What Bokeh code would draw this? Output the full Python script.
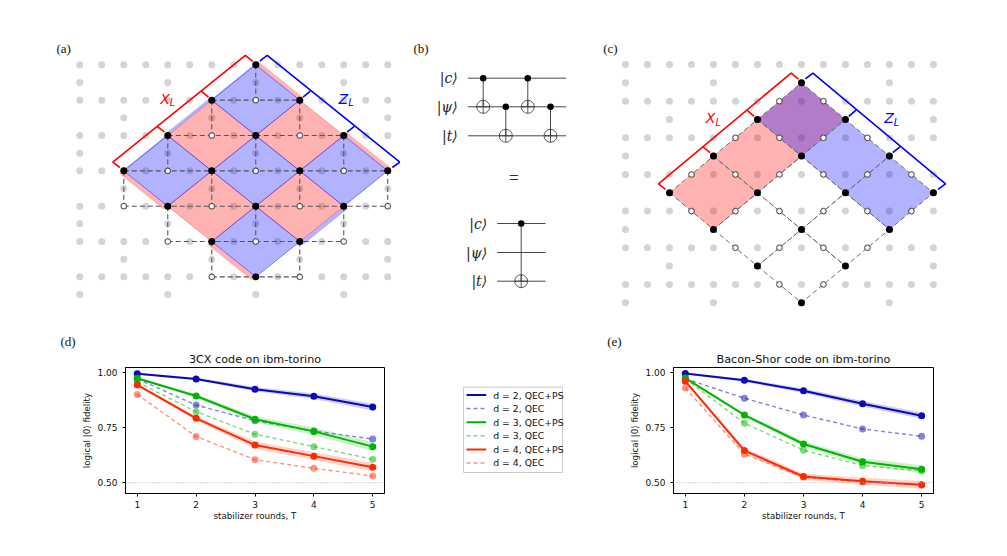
from bokeh.plotting import figure
from bokeh.layouts import column, row
from bokeh.models import Range1d, FixedTicker, Span, Label, NumeralTickFormatter
from bokeh.core.properties import value
from bokeh.embed import file_html
from bokeh.resources import INLINE

# ---------- chart data ----------
rounds = [1, 2, 3, 4, 5]
series_labels = ["d = 2, QEC+PS", "d = 2, QEC", "d = 3, QEC+PS", "d = 3, QEC", "d = 4, QEC+PS", "d = 4, QEC"]
colors = ["#0a0ab8", "#0a0ab8", "#00b400", "#00b400", "#ff2a00", "#ff2a00"]

cx_d2_ps = [0.993, 0.969, 0.923, 0.891, 0.842]
cx_d2_qec = [0.970, 0.851, 0.780, 0.734, 0.697]
cx_d3_ps = [0.972, 0.892, 0.787, 0.732, 0.663]
cx_d3_qec = [0.955, 0.821, 0.719, 0.663, 0.606]
cx_d4_ps = [0.942, 0.791, 0.670, 0.620, 0.570]
cx_d4_qec = [0.899, 0.709, 0.604, 0.565, 0.530]
cx_err = [[0.004, 0.006, 0.010, 0.012, 0.015],
          [0.005, 0.008, 0.014, 0.018, 0.020],
          [0.006, 0.010, 0.016, 0.018, 0.020]]

bs_d2_ps = [0.994, 0.963, 0.916, 0.857, 0.803]
bs_d2_qec = [0.970, 0.882, 0.806, 0.743, 0.710]
bs_d3_ps = [0.973, 0.806, 0.675, 0.595, 0.561]
bs_d3_qec = [0.970, 0.769, 0.647, 0.577, 0.553]
bs_d4_ps = [0.959, 0.645, 0.528, 0.506, 0.491]
bs_d4_qec = [0.928, 0.629, 0.524, 0.503, 0.490]
bs_err = [[0.004, 0.006, 0.010, 0.012, 0.014],
          [0.005, 0.008, 0.012, 0.015, 0.018],
          [0.006, 0.012, 0.014, 0.016, 0.018]]

y_ticks = [0.5, 0.75, 1.0]
chance_level = 0.5

# ---------- lattice data (column, row) ----------
full_rows = [0, 2, 4, 6, 8, 10, 12]
sparse_a_rows = [1, 5, 9, 13]
sparse_a_cols = [0, 4, 8, 12]
sparse_b_rows = [3, 7, 11]
sparse_b_cols = [2, 6, 10, 14]

a_black = [(8,0),(6,2),(10,2),(4,4),(8,4),(12,4),(2,6),(6,6),(10,6),(14,6),(4,8),(8,8),(12,8),(6,10),(10,10),(8,12)]
a_white = [(8,2),(6,4),(10,4),(4,6),(8,6),(12,6),(2,8),(6,8),(10,8),(14,8),(4,10),(8,10),(12,10),(6,12),(10,12)]
a_hlines = [(2,6,10),(4,4,12),(6,2,14),(8,2,14),(10,4,12),(12,6,10)]
a_vlines = [(8,0,2),(8,4,6),(8,8,10),(6,2,4),(6,6,8),(6,10,12),(10,2,4),(10,6,8),(10,10,12),(4,4,6),(4,8,10),(12,4,6),(12,8,10),(2,6,8),(14,6,8)]
a_blue = [(8,2),(4,6),(8,6),(12,6),(8,10)]
a_red = [(6,4),(10,4),(6,8),(10,8)]
a_red_strips = [((8,0),(10,2),(0.17,-0.14)),((12,4),(14,6),(0.17,-0.14)),((2,6),(4,8),(-0.2,0.17)),((6,10),(8,12),(-0.2,0.17))]
a_blue_strips = [((4,4),(6,2),(-0.12,-0.1)),((2,6),(4,4),(-0.04,-0.04)),((10,10),(12,8),(0.18,0.15)),((6,2),(8,0),(-0.04,-0.04))]

c_black = [(8,1),(6,3),(10,3),(4,5),(8,5),(12,5),(2,7),(6,7),(10,7),(14,7),(4,9),(8,9),(12,9),(6,11),(10,11),(8,13)]
c_white = [(7,2),(9,2),(5,4),(7,4),(9,4),(11,4),(3,6),(5,6),(7,6),(9,6),(11,6),(13,6),(3,8),(5,8),(7,8),(9,8),(11,8),(13,8),(5,10),(7,10),(9,10),(11,10),(7,12),(9,12)]
c_red = [(8,3),(6,5),(4,7)]
c_blue = [(8,3),(10,5),(12,7)]
c_tiles_all = [(8,3),(6,5),(10,5),(4,7),(8,7),(12,7),(6,9),(10,9),(8,11)]

red_bracket = [(1.82,5.81),(1.5,5.51),(7.53,-0.53),(7.86,-0.2)]
red_ticks = [((3.52,3.49),(3.85,3.81)),((5.52,1.49),(5.85,1.83))]
blue_bracket = [(8.18,-0.21),(8.52,-0.53),(14.55,5.51),(14.21,5.81)]
blue_ticks = [((10.48,1.49),(10.15,1.83)),((12.48,3.49),(12.15,3.81))]
x_label_pos = (4.09, 1.92)
z_label_pos = (12.2, 1.92)

# ---------- circuit data, in page pixels ----------
top_wire_y = [77.7, 106.3, 135.3]
top_wire_x = [467.3, 565.7]
top_gates = [(482.7, 0, 1), (505.3, 1, 2), (527.3, 0, 1), (550.0, 1, 2)]
low_wire_y = [223.0, 252.0, 280.7]
low_wire_x = [496.7, 545.0]
low_gate = (520.7, 0, 2)
ket_labels = ["|c⟩", "|ψ⟩", "|t⟩"]

# ---------- legend layout, in page pixels ----------
legend_box = (463, 562, 385, 471.7)
legend_rows = [393, 406.7, 420.7, 434.3, 448.3, 462]
legend_line_x = [466, 485.7]
legend_text_x = 492.7

SERIF = "Liberation Serif"
SANS = "DejaVu Sans"
RED = "#ff0000"
BLUE = "#0000ff"
value_sans = value(SANS)
value_serif = value(SERIF)
TOP_H = 349
BOTTOM_H = 201
BORDER_T = 16
BORDER_B = 57


def blank(width, height, xr, yr, **kw):
    p = figure(width=width, height=height, x_range=Range1d(*xr), y_range=Range1d(*yr),
               output_backend="svg", toolbar_location=None, min_border=0, **kw)
    p.axis.visible = False
    p.grid.visible = False
    p.outline_line_color = None
    return p


def panel_label(p, text, x, y_from_bottom):
    p.add_layout(Label(x=x, y=y_from_bottom, x_units="screen", y_units="screen", text=text,
                       text_font=SERIF, text_font_size="13px", text_color="#111111",
                       text_baseline="middle", text_align="left"))


def lattice_dots(p, size):
    xs, ys = [], []
    for r in full_rows:
        xs += list(range(15)); ys += [r] * 15
    for r in sparse_a_rows:
        xs += sparse_a_cols; ys += [r] * 4
    for r in sparse_b_rows:
        xs += sparse_b_cols; ys += [r] * 4
    p.scatter(xs, ys, size=size, color="#d4d4d4", line_color=None)


def diamonds(centers):
    return [[c - 2, c, c + 2, c] for c, _ in centers], [[r, r - 2, r, r + 2] for _, r in centers]


def brackets(p, shift):
    for pts, ticks, col in ((red_bracket, red_ticks, RED), (blue_bracket, blue_ticks, BLUE)):
        p.line([a for a, _ in pts], [b + shift for _, b in pts], line_color=col, line_width=1.6)
        for s, e in ticks:
            p.line([s[0], e[0]], [s[1] + shift, e[1] + shift], line_color=col, line_width=1.6)
    for (lx, ly), main, col in ((x_label_pos, "X", RED), (z_label_pos, "Z", BLUE)):
        p.text([lx], [ly + shift], text=[main], text_color=col, text_font_size="14px", text_font_style="italic",
               text_font=value_sans, text_align="right", text_baseline="middle")
        p.text([lx], [ly + shift + 0.22], text=["L"], text_color=col, text_font_size="10px", text_font_style="italic",
               text_font=value_sans, text_align="left", text_baseline="middle")


def nodes(p, white, black):
    p.scatter([c for c, _ in white], [r for _, r in white], size=5.5, fill_color="white", line_color="#222222", line_width=0.8)
    p.scatter([c for c, _ in black], [r for _, r in black], size=7, color="black", line_color=None)


# ---------- panel (a) ----------
pa = blank(400, TOP_H, (-3.605, 14.58), (16.11, -3.64))
lattice_dots(pa, 7)
for strips, col in ((a_red_strips, RED), (a_blue_strips, BLUE)):
    xs, ys = [], []
    for s, e, o in strips:
        xs.append([s[0], e[0], e[0] + o[0], s[0] + o[0]])
        ys.append([s[1], e[1], e[1] + o[1], s[1] + o[1]])
    pa.patches(xs, ys, fill_color=col, fill_alpha=0.3, line_color=None)
xs, ys = diamonds(a_red)
pa.patches(xs, ys, fill_color=RED, fill_alpha=0.3, line_color=RED, line_alpha=0.3, line_width=1)
xs, ys = diamonds(a_blue)
pa.patches(xs, ys, fill_color=BLUE, fill_alpha=0.3, line_color=BLUE, line_alpha=0.45, line_width=1)
for r, c0, c1 in a_hlines:
    pa.line([c0, c1], [r, r], line_color="#555555", line_width=1.1, line_dash="5 3")
for c, r0, r1 in a_vlines:
    pa.line([c, c], [r0, r1], line_color="#555555", line_width=1.1, line_dash="5 3")
nodes(pa, a_white, a_black)
brackets(pa, 0)
panel_label(pa, "(a)", 56, 301)
panel_label(pa, "(d)", 60, 8)

# ---------- panel (b) ----------
pb = blank(198, TOP_H, (400, 598), (TOP_H, 0))
for y in top_wire_y:
    pb.line(top_wire_x, [y, y], line_color="#333333", line_width=0.9)
for x, c, t in top_gates:
    pb.line([x, x], [top_wire_y[c], top_wire_y[t]], line_color="#333333", line_width=0.9)
    pb.scatter([x], [top_wire_y[c]], size=6.5, color="black", line_color=None)
    pb.scatter([x], [top_wire_y[t]], size=13, marker="circle_cross", fill_color=None, line_color="#333333", line_width=0.8)
for y in low_wire_y:
    pb.line(low_wire_x, [y, y], line_color="#333333", line_width=0.9)
x, c, t = low_gate
pb.line([x, x], [low_wire_y[c], low_wire_y[t]], line_color="#333333", line_width=0.9)
pb.scatter([x], [low_wire_y[c]], size=6.5, color="black", line_color=None)
pb.scatter([x], [low_wire_y[t]], size=13, marker="circle_cross", fill_color=None, line_color="#333333", line_width=0.8)
pb.text([top_wire_x[0] - 10] * 3, top_wire_y, text=ket_labels, text_font=value("DejaVu Serif"), text_font_size="14px",
        text_font_style="italic", text_align="right", text_baseline="middle", text_color="#222222")
pb.text([low_wire_x[0] - 10] * 3, low_wire_y, text=ket_labels, text_font=value("DejaVu Serif"), text_font_size="14px",
        text_font_style="italic", text_align="right", text_baseline="middle", text_color="#222222")
pb.text([513.3], [177.7], text=["="], text_font=value_serif, text_font_size="18px", text_align="center",
        text_baseline="middle", text_color="#333333")
panel_label(pb, "(b)", 13, 301)

# ---------- panel (c) ----------
pc = blank(402, TOP_H, (-1.227, 17.05), (15.55, -3.49))
lattice_dots(pc, 7)
xs, ys = diamonds(c_red)
pc.patches(xs, ys, fill_color=RED, fill_alpha=0.3, line_color=None)
xs, ys = diamonds(c_blue)
pc.patches(xs, ys, fill_color=BLUE, fill_alpha=0.3, line_color=None)
xs, ys = diamonds(c_tiles_all)
pc.patches(xs, ys, fill_color=None, line_color="#707070", line_width=1, line_dash="5 3")
nodes(pc, c_white, c_black)
brackets(pc, 1)
panel_label(pc, "(c)", 4.7, 301)
panel_label(pc, "(e)", 8.7, 8)


# ---------- line charts ----------
def chart(title, width, left, right, data, errs):
    p = figure(width=width, height=BOTTOM_H, x_range=Range1d(0.8, 5.2), y_range=Range1d(0.451, 1.021),
               output_backend="svg", toolbar_location=None, title=title,
               min_border_left=left, min_border_right=right, min_border_top=BORDER_T, min_border_bottom=BORDER_B,
               x_axis_label="stabilizer rounds, T", y_axis_label="logical |0⟩ fidelity")
    p.grid.visible = False
    p.outline_line_color = "black"
    p.outline_line_width = 1
    p.title.text_font = SANS
    p.title.text_font_size = "11.2px"
    p.title.text_font_style = "normal"
    p.title.align = "center"
    p.title.text_color = "#111111"
    p.title.standoff = 3
    for ax in (p.xaxis[0], p.yaxis[0]):
        ax.minor_tick_line_color = None
        ax.major_tick_in = 0
        ax.major_tick_out = 3
        ax.major_label_text_font = SANS
        ax.major_label_text_font_size = "9px"
        ax.major_label_text_color = "#111111"
        ax.axis_label_text_font = SANS
        ax.axis_label_text_font_size = "8.7px"
        ax.axis_label_text_font_style = "normal"
        ax.axis_label_text_color = "#111111"
        ax.axis_label_standoff = 2
    p.xaxis[0].major_label_standoff = 4
    p.xaxis[0].axis_label_standoff = 0
    p.xaxis[0].ticker = FixedTicker(ticks=rounds)
    p.yaxis[0].ticker = FixedTicker(ticks=y_ticks)
    p.yaxis[0].formatter = NumeralTickFormatter(format="0.00")
    p.add_layout(Span(location=chance_level, dimension="width", line_color="#aaaaaa", line_dash="1 2", line_width=1))
    for i, ys_ in enumerate(data):
        col = colors[i]
        if i % 2 == 0:
            e = errs[i // 2]
            p.varea(rounds, [a - b for a, b in zip(ys_, e)], [a + b for a, b in zip(ys_, e)], fill_color=col, fill_alpha=0.2)
            alpha = 1.0
            p.line(rounds, ys_, line_color=col, line_width=2, line_alpha=alpha)
        else:
            alpha = 0.5
            p.line(rounds, ys_, line_color=col, line_width=1.4, line_alpha=alpha, line_dash="4 3")
        p.scatter(rounds, ys_, size=7, color=col, alpha=alpha, line_color=None)
    return p


pd_ = chart("3CX code on ibm-torino", 405, 125, 21,
            [cx_d2_ps, cx_d2_qec, cx_d3_ps, cx_d3_qec, cx_d4_ps, cx_d4_qec], cx_err)
pe = chart("Bacon-Shor code on ibm-torino", 385, 58, 67,
           [bs_d2_ps, bs_d2_qec, bs_d3_ps, bs_d3_qec, bs_d4_ps, bs_d4_qec], bs_err)

# ---------- legend, drawn by hand; its frame lines up with the charts' frames ----------
frame_top = TOP_H + BORDER_T
frame_bottom = TOP_H + BOTTOM_H - BORDER_B
pm = blank(210, BOTTOM_H, (405, 615), (frame_bottom, frame_top))
pm.min_border_top = BORDER_T
pm.min_border_bottom = BORDER_B
l, r_, t_, b_ = legend_box
pm.quad(left=[l], right=[r_], top=[t_], bottom=[b_], fill_color="white", line_color="#cccccc", line_width=1)
for i, lab in enumerate(series_labels):
    y = legend_rows[i]
    if i % 2 == 0:
        pm.line(legend_line_x, [y, y], line_color=colors[i], line_width=2)
    else:
        pm.line(legend_line_x, [y, y], line_color=colors[i], line_width=1.4, line_alpha=0.5, line_dash="4 3")
    pm.text([legend_text_x], [y], text=[lab], text_font=value_sans, text_font_size="9.3px", text_color="#111111",
            text_align="left", text_baseline="middle")

layout = column(row(pa, pb, pc), row(pd_, pm, pe))
open("out.html", "w").write(file_html(layout, INLINE))
